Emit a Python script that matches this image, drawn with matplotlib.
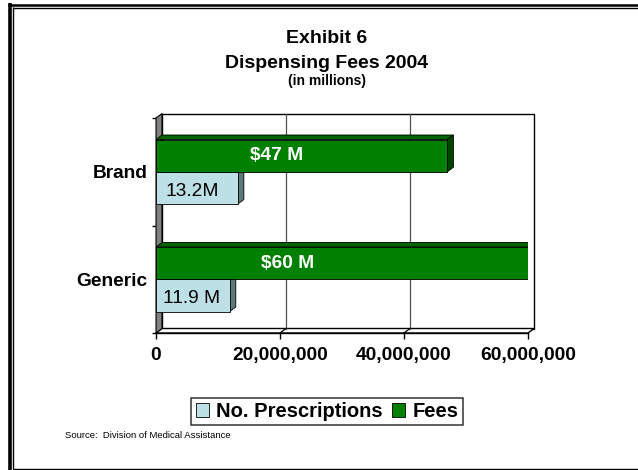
import matplotlib
matplotlib.use("Agg")
import matplotlib.pyplot as plt
from matplotlib.patches import Polygon, Patch
from matplotlib.lines import Line2D
from matplotlib.ticker import FuncFormatter

plt.rcParams['font.family'] = ['Liberation Sans', 'DejaVu Sans']

# Dispensing fees 2004 by drug type (bottom to top)
categories = ['Generic', 'Brand']
prescriptions = [11.9e6, 13.2e6]
fees = [60e6, 47e6]
prescription_labels = ['11.9 M', '13.2M']
fee_labels = ['$60 M', '$47 M']
x_ticks = [0, 20e6, 40e6, 60e6]

W, H = 638, 470
fig = plt.figure(figsize=(W / 100, H / 100), dpi=100)
fig.patch.set_facecolor('white')


def fx(px):
    return px / W


def fy(py):
    return 1 - py / H


# front plane of the chart
ax = fig.add_axes([fx(156), fy(333), fx(528) - fx(156), fy(118) - fy(333)])
ax.set_xlim(0, 60e6)
ax.set_ylim(-0.5, 1.5)
ax.set_facecolor('none')

# depth of the 3-D box, in data units
p0 = ax.transData.transform((0, 0))
dxd, dyd = ax.transData.inverted().transform(p0 + [6, 4.5])
xmax = ax.get_xlim()[1]
y0, y1 = ax.get_ylim()

# back wall
ax.add_patch(Polygon([(dxd, y0 + dyd), (xmax + dxd, y0 + dyd),
                      (xmax + dxd, y1 + dyd), (dxd, y1 + dyd)], closed=True,
                     facecolor='white', edgecolor='black', lw=1, clip_on=False, zorder=1))
# floor
ax.add_patch(Polygon([(0, y0), (xmax, y0), (xmax + dxd, y0 + dyd), (dxd, y0 + dyd)],
                     closed=True, facecolor='white', edgecolor='black', lw=1,
                     clip_on=False, zorder=1))
# gridlines on wall and floor
for xv in x_ticks[1:-1]:
    ax.plot([xv + dxd, xv + dxd], [y0 + dyd, y1 + dyd], color='#505050', lw=0.9,
            clip_on=False, zorder=1.5)
    ax.plot([xv, xv + dxd], [y0, y0 + dyd], color='black', lw=0.9, clip_on=False, zorder=1.5)
# left side wall
ax.add_patch(Polygon([(0, y0), (dxd, y0 + dyd), (dxd, y1 + dyd), (0, y1)], closed=True,
                     facecolor='#808080', edgecolor='black', lw=0.8, clip_on=False, zorder=2))


def bar3d(y, h, v, front, top, side):
    ax.barh(y, v, height=h, align='edge', color=front, edgecolor='black', lw=0.6, zorder=4)
    yt = y + h
    ax.add_patch(Polygon([(0, yt), (v, yt), (v + dxd, yt + dyd), (dxd, yt + dyd)],
                         closed=True, facecolor=top, edgecolor='black', lw=0.6, zorder=3))
    ax.add_patch(Polygon([(v, y), (v, yt), (v + dxd, yt + dyd), (v + dxd, y + dyd)],
                         closed=True, facecolor=side, edgecolor='black', lw=0.6, zorder=3))


bh = 0.3
fee_label_x = [21.3e6, 19.5e6]
for i, cat in enumerate(categories):
    bar3d(i - bh, bh, prescriptions[i], '#BCE0E6', '#98B8BE', '#5E7878')
    bar3d(i, bh, fees[i], '#008000', '#006400', '#004400')
    ax.text(fee_label_x[i], i + bh / 2, fee_labels[i], color='white', fontsize=13.8,
            fontweight='bold', ha='center', va='center', zorder=5)
    ax.text(5.8e6, i - bh / 2 - 0.03, prescription_labels[i], color='black', fontsize=13.8,
            ha='center', va='center', zorder=5)

# axes
for s in ['top', 'right', 'left']:
    ax.spines[s].set_visible(False)
ax.spines['bottom'].set_color('black')
ax.spines['bottom'].set_linewidth(1)
ax.set_xticks(x_ticks)
ax.xaxis.set_major_formatter(FuncFormatter(lambda v, p: f'{v:,.0f}'))
ax.tick_params(axis='x', direction='out', length=4, width=1, pad=6, labelsize=13.8)
for t in ax.get_xticklabels():
    t.set_fontweight('bold')
ax.set_yticks(range(len(categories)))
ax.set_yticklabels(categories, fontsize=13.8, fontweight='bold')
ax.set_yticks([-0.5, 0.5, 1.5], minor=True)
ax.tick_params(axis='y', which='major', length=0, pad=6)
ax.tick_params(axis='y', which='minor', direction='out', length=3, width=1)

# titles
fig.text(fx(327), fy(43.3), 'Exhibit 6', ha='center', va='baseline', fontsize=14,
         fontweight='bold')
fig.text(fx(327), fy(67.5), 'Dispensing Fees 2004', ha='center', va='baseline',
         fontsize=14, fontweight='bold')
fig.text(fx(327), fy(85), '(in millions)', ha='center', va='baseline', fontsize=10,
         fontweight='bold')

# legend
handles = [Patch(facecolor='#BCE0E6', edgecolor='black', lw=0.6, label='No. Prescriptions'),
           Patch(facecolor='#008000', edgecolor='black', lw=0.6, label='Fees')]
leg = fig.legend(handles=handles, loc='center', bbox_to_anchor=(fx(327), fy(411.5)),
                 bbox_transform=fig.transFigure, ncol=2, frameon=True, fancybox=False,
                 prop={'family': 'Liberation Sans', 'weight': 'bold', 'size': 14.5},
                 borderpad=0.2, handlelength=0.65, handleheight=0.65, handletextpad=0.35,
                 columnspacing=0.5, borderaxespad=0)
leg.get_frame().set_edgecolor('black')
leg.get_frame().set_linewidth(1.1)

fig.text(fx(65), fy(438), 'Source:  Division of Medical Assistance', ha='left',
         va='baseline', fontsize=6.8)

# double border around the chart
border = dict(color='black', transform=fig.transFigure, solid_capstyle='butt')
fig.add_artist(Line2D([fx(9.8), fx(9.8)], [fy(3.3), fy(470)], lw=2.6, **border))
fig.add_artist(Line2D([fx(8.0), fx(638)], [fy(4.5), fy(4.5)], lw=1.8, **border))
fig.add_artist(Line2D([fx(13.4), fx(13.4)], [fy(7.2), fy(469.4)], lw=1.0, **border))
fig.add_artist(Line2D([fx(13.0), fx(638)], [fy(7.6), fy(7.6)], lw=1.0, **border))
fig.add_artist(Line2D([fx(13.0), fx(638)], [fy(469), fy(469)], lw=1.0, **border))

fig.savefig('out.png', dpi=100)
